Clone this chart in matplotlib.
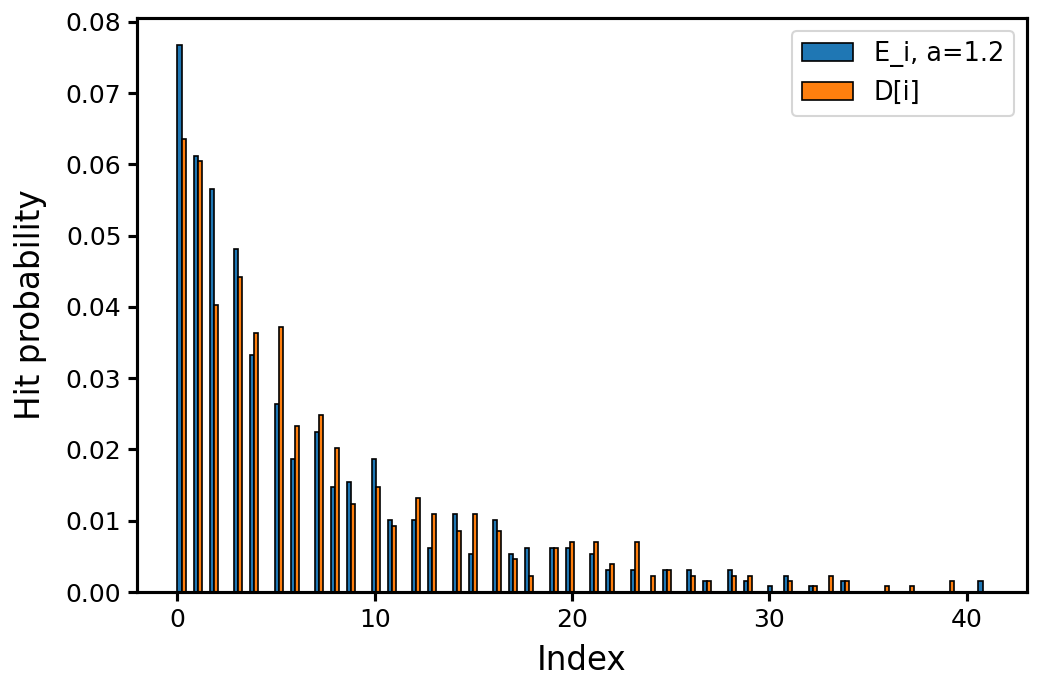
import matplotlib
matplotlib.use("Agg")
import matplotlib.pyplot as plt
import numpy as np

# Index values (0..41)
indices = list(range(42))

# E_i, a=1.2 hit probabilities
E_vals = [0.0767, 0.0612, 0.0566, 0.0481, 0.0333, 0.0264, 0.0186, 0.0225,
          0.0147, 0.0155, 0.0186, 0.0101, 0.0101, 0.0062, 0.0109, 0.0054,
          0.0101, 0.0054, 0.0062, 0.0062, 0.0062, 0.0054, 0.0031, 0.0031,
          0.0000, 0.0031, 0.0031, 0.0016, 0.0031, 0.0016, 0.0008, 0.0023,
          0.0008, 0.0000, 0.0016, 0.0000, 0.0000, 0.0000, 0.0000, 0.0000,
          0.0000, 0.0016]

# D[i] hit probabilities
D_vals = [0.0636, 0.0605, 0.0403, 0.0442, 0.0364, 0.0372, 0.0233, 0.0248,
          0.0202, 0.0124, 0.0147, 0.0093, 0.0132, 0.0109, 0.0085, 0.0109,
          0.0085, 0.0047, 0.0023, 0.0062, 0.0070, 0.0070, 0.0039, 0.0070,
          0.0023, 0.0031, 0.0023, 0.0016, 0.0023, 0.0023, 0.0000, 0.0016,
          0.0008, 0.0023, 0.0016, 0.0000, 0.0008, 0.0008, 0.0000, 0.0016,
          0.0000, 0.0000]

series_labels = ["E_i, a=1.2", "D[i]"]

W, H, DPI = 1039, 683, 150
fig = plt.figure(figsize=(W / DPI, H / DPI), dpi=DPI)
ax = fig.add_axes([137 / W, (H - 592) / H, (1027 - 137) / W, (592 - 18) / H])

ax.hist([indices, indices], bins=100, weights=[E_vals, D_vals],
        color=["#1f77b4", "#ff7f0e"], edgecolor="black", linewidth=0.8,
        rwidth=1.0, label=series_labels)

for s in ax.spines.values():
    s.set_linewidth(1.5)
ax.tick_params(axis="both", which="major", labelsize=12, width=1.5,
               length=4.5, pad=3)
ax.set_xlabel("Index", fontsize=15.7, labelpad=6)
ax.set_ylabel("Hit probability", fontsize=15.7, labelpad=9)
ax.set_xticks([0, 10, 20, 30, 40])
ax.legend(loc="upper right", fontsize=12.3)

fig.savefig("out.png", dpi=DPI)
